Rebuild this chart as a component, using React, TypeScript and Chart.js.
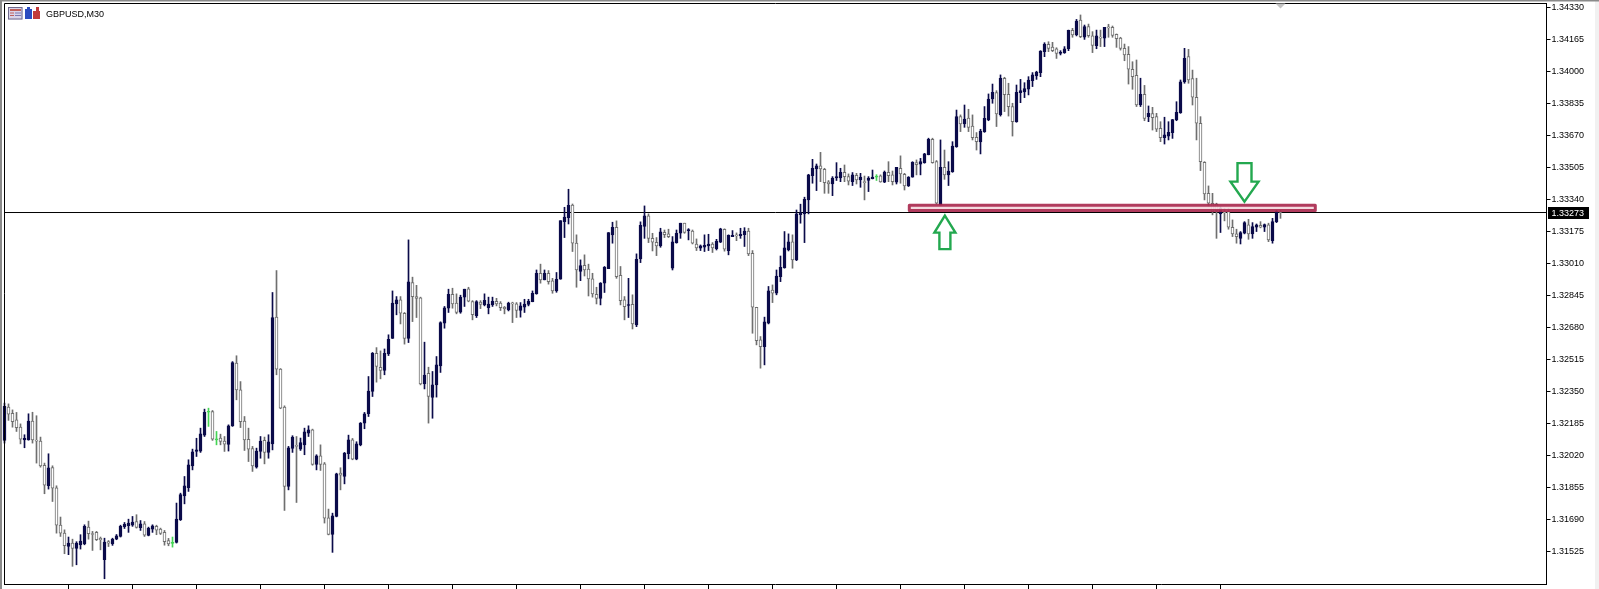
import React, { useEffect, useRef } from "react";
import { Chart, registerables } from "chart.js";

Chart.register(...registerables);

// Quotes are written as points above 1.30000 (4330 means 1.34330).
const opens = [
  2099,2270,2239,2205,2167,2102,2102,2198,2100,2095,
  1971,1865,1959,1855,1662,1621,1553,1570,1542,1561,
  1566,1652,1618,1625,1594,1484,1577,1566,1590,1604,
  1654,1659,1662,1680,1649,1669,1609,1642,1656,1642,
  1625,1583,1568,1573,1690,1813,1855,1968,2042,2044,
  2126,2244,2248,2102,2111,2095,2078,2174,2497,2359,
  2198,2105,2057,1961,2042,2099,2037,2081,2734,2466,
  2270,1862,2057,2071,2054,2076,2136,2153,1975,2020,
  1978,1700,1614,1707,1930,1913,2030,2102,2002,2076,
  2188,2236,2351,2548,2476,2459,2545,2624,2802,2823,
  2754,2624,2912,2840,2833,2390,2445,2320,2385,2483,
  2703,2780,2852,2806,2759,2837,2880,2814,2742,2811,
  2797,2783,2797,2816,2806,2785,2771,2806,2802,2768,
  2785,2799,2814,2855,2960,2926,2960,2921,2869,2929,
  3226,3247,3312,3115,2969,3001,2981,2931,2852,2831,
  2909,2984,3158,3197,2950,2823,2794,2800,2694,3034,
  3201,3256,3140,3120,3101,3171,3163,2986,3118,3166,
  3218,3180,3178,3110,3089,3094,3101,3111,3087,3120,
  3187,3077,3149,3158,3154,3159,3178,3063,2785,2617,
  2582,2703,2874,2857,2943,2989,3080,3122,3029,3262,
  3266,3338,3463,3498,3513,3496,3431,3420,3451,3451,
  3480,3458,3432,3465,3441,3431,3438,3448,3455,3462,
  3429,3480,3467,3429,3501,3470,3410,3455,3530,3522,
  3530,3571,3650,3535,3312,3506,3467,3484,3612,3767,
  3729,3760,3719,3661,3637,3690,3750,3858,3891,3777,
  3965,3882,3819,3741,3891,3894,3908,3952,3977,3994,
  4102,4140,4126,4117,4093,4097,4117,4212,4188,4265,
  4176,4231,4183,4133,4175,4171,4227,4227,4191,4172,
  4119,4088,4011,3980,3827,3882,3767,3783,3767,3707,
  3659,3667,3685,3750,3788,3946,4076,3963,3867,3733,
  3532,3372,3321,3317,3266,3278,3278,3197,3163,3140,
  3166,3209,3163,3197,3207,3197,3209,3128,3226,3275,
];
const closes = [
  2274,2234,2196,2165,2105,2109,2198,2102,2095,1968,
  1868,1958,1853,1662,1621,1556,1570,1542,1570,1580,
  1656,1618,1614,1587,1587,1575,1570,1590,1607,1656,
  1666,1673,1678,1650,1669,1611,1647,1659,1637,1619,
  1577,1565,1568,1693,1820,1865,1973,2040,2050,2133,
  2244,2244,2105,2102,2093,2080,2174,2500,2359,2196,
  2102,2054,1968,2044,2095,2037,2092,2732,2466,2265,
  1862,2061,2116,2068,2088,2143,2153,1975,2020,1975,
  1698,1614,1710,1927,1920,2033,2102,2002,2081,2188,
  2236,2353,2548,2480,2459,2548,2620,2806,2823,2754,
  2624,2916,2840,2830,2390,2435,2325,2385,2488,2706,
  2782,2852,2802,2758,2837,2878,2816,2747,2814,2799,
  2821,2801,2816,2802,2783,2777,2807,2802,2768,2792,
  2801,2816,2857,2960,2926,2960,2917,2869,2929,3231,
  3249,3310,3115,2977,3000,2977,2931,2854,2831,2909,
  2991,3170,3197,2943,2819,2788,2799,2699,3032,3207,
  3256,3139,3120,3101,3173,3159,3149,3122,3166,3218,
  3170,3183,3115,3091,3101,3104,3111,3091,3125,3189,
  3084,3156,3156,3153,3161,3178,3060,2785,2613,2582,
  2710,2869,2857,2946,2991,3091,3122,3029,3266,3273,
  3341,3467,3501,3513,3498,3427,3420,3451,3458,3480,
  3458,3434,3467,3441,3455,3427,3450,3456,3455,3431,
  3482,3463,3432,3506,3472,3410,3455,3532,3520,3535,
  3575,3650,3530,3321,3506,3467,3487,3616,3767,3729,
  3755,3712,3659,3638,3693,3758,3858,3892,3781,3965,
  3880,3819,3741,3892,3901,3911,3956,3982,3997,4105,
  4141,4119,4107,4093,4100,4117,4212,4188,4260,4179,
  4231,4184,4134,4183,4172,4227,4224,4186,4169,4119,
  4085,4011,3973,3827,3882,3758,3784,3762,3702,3659,
  3673,3686,3752,3789,3946,4068,3956,3867,3733,3535,
  3369,3321,3278,3283,3295,3272,3197,3163,3149,3170,
  3221,3163,3200,3209,3197,3211,3132,3226,3278,3273,
];
const highs = [
  2291,2287,2256,2243,2184,2128,2236,2244,2226,2116,
  1982,2030,1968,1865,1704,1638,1601,1590,1577,1613,
  1664,1683,1630,1630,1601,1595,1583,1595,1614,1662,
  1676,1693,1707,1716,1686,1681,1652,1664,1662,1647,
  1635,1594,1601,1776,1827,1913,1999,2054,2110,2162,
  2260,2265,2253,2145,2131,2119,2179,2505,2535,2402,
  2222,2162,2068,2059,2119,2116,2128,2861,2974,2469,
  2277,2068,2123,2119,2111,2162,2174,2157,2025,2076,
  1985,1745,1724,1930,1958,2037,2126,2109,2092,2191,
  2243,2428,2552,2577,2560,2570,2643,2869,2840,2840,
  2758,3132,2940,2898,2837,2605,2476,2454,2531,2710,
  2789,2878,2883,2854,2847,2878,2888,2819,2819,2819,
  2854,2837,2837,2831,2814,2789,2811,2811,2809,2809,
  2826,2826,2869,2977,3007,2977,2974,2934,2964,3231,
  3300,3393,3317,3158,3029,3055,3007,2960,2888,2912,
  2995,3170,3223,3230,2995,2840,2934,2849,3060,3225,
  3307,3266,3166,3144,3192,3183,3187,3149,3183,3218,
  3218,3190,3183,3137,3106,3158,3161,3118,3135,3192,
  3189,3158,3180,3168,3192,3195,3192,3077,2785,2634,
  2734,2892,2900,2977,3049,3175,3163,3158,3286,3316,
  3352,3470,3547,3523,3583,3501,3438,3458,3530,3501,
  3518,3472,3479,3475,3475,3461,3458,3492,3468,3467,
  3487,3535,3487,3506,3565,3475,3458,3535,3544,3552,
  3578,3656,3656,3541,3647,3595,3535,3638,3801,3776,
  3827,3805,3776,3685,3702,3819,3884,3935,3901,3982,
  3970,3939,3836,3930,3959,3942,3973,3994,4001,4107,
  4148,4153,4150,4122,4107,4128,4213,4222,4268,4291,
  4239,4244,4205,4213,4213,4227,4243,4234,4193,4176,
  4141,4128,4050,4059,3965,3928,3822,3815,3784,3741,
  3764,3741,3753,3844,3956,4119,4114,4007,3965,3767,
  3535,3410,3372,3321,3304,3295,3295,3235,3187,3175,
  3226,3238,3221,3214,3226,3214,3218,3243,3286,3286,
];
const lows = [
  2085,2202,2167,2145,2081,2061,2100,2085,1982,1961,
  1824,1848,1784,1621,1604,1515,1510,1450,1458,1539,
  1561,1590,1532,1583,1535,1386,1552,1558,1587,1601,
  1645,1625,1656,1647,1635,1604,1607,1625,1613,1614,
  1559,1556,1549,1570,1686,1772,1836,1947,2016,2037,
  2119,2171,2099,2076,2076,2042,2044,2171,2308,2165,
  2047,1990,1939,1956,2007,1978,2007,2050,2437,2262,
  1738,1844,2037,1779,2047,2025,2119,1971,1947,1944,
  1673,1612,1522,1705,1844,1875,2004,1999,1999,2071,
  2159,2222,2325,2399,2416,2437,2536,2624,2746,2699,
  2595,2603,2711,2732,2385,2364,2188,2213,2322,2449,
  2677,2758,2780,2751,2754,2789,2813,2720,2732,2778,
  2792,2751,2789,2792,2768,2751,2766,2706,2732,2734,
  2758,2792,2813,2852,2909,2926,2904,2857,2862,2929,
  3144,3214,3072,2888,2922,2946,2843,2837,2802,2797,
  2861,2984,3115,2934,2797,2720,2732,2673,2685,3015,
  3140,3118,3075,3051,3094,3144,3144,2977,3115,3140,
  3166,3132,3111,3077,3077,3072,3077,3067,3080,3118,
  3074,3055,3149,3128,3140,3098,3051,2651,2591,2471,
  2488,2699,2809,2849,2917,2986,3075,2986,3025,3218,
  3118,3266,3424,3386,3432,3372,3372,3360,3438,3432,
  3432,3415,3412,3420,3403,3338,3381,3446,3438,3429,
  3427,3432,3415,3420,3424,3389,3407,3455,3467,3467,
  3527,3570,3527,3317,3312,3444,3412,3480,3609,3690,
  3712,3690,3647,3595,3575,3686,3746,3836,3716,3770,
  3793,3770,3667,3738,3839,3865,3879,3922,3959,3973,
  4076,4102,4102,4067,4085,4093,4107,4176,4183,4174,
  4165,4176,4097,4117,4128,4128,4176,4176,4124,4110,
  4055,3935,3908,3819,3819,3746,3741,3698,3690,3638,
  3626,3647,3655,3746,3784,3939,3939,3827,3647,3489,
  3338,3304,3261,3140,3170,3230,3187,3149,3115,3111,
  3163,3135,3140,3175,3194,3175,3123,3115,3221,3243,
];

const priceTicks = [
  "1.34330","1.34165","1.34000","1.33835","1.33670","1.33505",
  "1.33340","1.33175","1.33010","1.32845","1.32680","1.32515",
  "1.32350","1.32185","1.32020","1.31855","1.31690","1.31525",
];
const timeTickBars = [16,32,48,64,80,96,112,128,144,160,176,192,208,224,240,256,272,288,304];
const symbolTitle = "GBPUSD,M30";
const lastPrice = 1.33273;
const priceMin = 1.31359;
const priceMax = 1.3435;
const barMax = 385.5;

// Drawn zones, in bar numbers and prices.
const zoneBars = [226.2, 327.7];
const zonePrices = [1.3331, 1.33284];
const upArrowTip = { bar: 235.1, price: 1.33257 };
const downArrowTip = { bar: 310, price: 1.33329 };

const BULL = "#0b0b4a";
const BEAR = "#6f6f6f";
const DOJI = "#45d455";
const FONT = '"Liberation Sans", Arial, sans-serif';

const toPrice = (p: number) => 1.3 + p / 100000;
const colorOf = (i: number) =>
  closes[i] > opens[i] ? BULL : closes[i] < opens[i] ? BEAR : DOJI;

const framePlugin = {
  id: "frame",
  beforeDraw(chart: any) {
    const { ctx, width, height } = chart;
    ctx.save();
    ctx.fillStyle = "#ffffff";
    ctx.fillRect(0, 0, width, height);
    ctx.fillStyle = "#f1f1f1";
    ctx.fillRect(1595, 0, width - 1595, height);
    ctx.fillStyle = "#8a8a8a";
    ctx.fillRect(0, 0, width, 1.5);
    ctx.fillRect(0, 0, 2, height);
    ctx.restore();
  },
  afterDatasetsDraw(chart: any) {
    const { ctx, chartArea: a, scales } = chart;
    const x = scales.x;
    const y = scales.y;
    ctx.save();
    // zone
    const zx0 = x.getPixelForValue(zoneBars[0]);
    const zx1 = x.getPixelForValue(zoneBars[1]);
    const zy0 = y.getPixelForValue(zonePrices[0]);
    const zy1 = y.getPixelForValue(zonePrices[1]);
    ctx.globalAlpha = 0.9;
    ctx.fillStyle = "#f3d5dc";
    ctx.fillRect(zx0, zy0, zx1 - zx0, zy1 - zy0);
    ctx.strokeStyle = "#a8274c";
    ctx.lineWidth = 3;
    ctx.lineJoin = "round";
    ctx.strokeRect(zx0, zy0, zx1 - zx0, zy1 - zy0);
    ctx.globalAlpha = 1;
    // arrows
    ctx.strokeStyle = "#23a84f";
    ctx.lineWidth = 2.4;
    ctx.lineJoin = "miter";
    const ux = x.getPixelForValue(upArrowTip.bar);
    const uy = y.getPixelForValue(upArrowTip.price);
    ctx.beginPath();
    ctx.moveTo(ux, uy);
    ctx.lineTo(ux + 10.5, uy + 17);
    ctx.lineTo(ux + 5.5, uy + 17);
    ctx.lineTo(ux + 5.5, uy + 33.5);
    ctx.lineTo(ux - 5.5, uy + 33.5);
    ctx.lineTo(ux - 5.5, uy + 17);
    ctx.lineTo(ux - 10.5, uy + 17);
    ctx.closePath();
    ctx.stroke();
    const dx = x.getPixelForValue(downArrowTip.bar);
    const dy = y.getPixelForValue(downArrowTip.price);
    ctx.beginPath();
    ctx.moveTo(dx, dy);
    ctx.lineTo(dx + 14, dy - 20);
    ctx.lineTo(dx + 7, dy - 20);
    ctx.lineTo(dx + 7, dy - 38.5);
    ctx.lineTo(dx - 7, dy - 38.5);
    ctx.lineTo(dx - 7, dy - 20);
    ctx.lineTo(dx - 14, dy - 20);
    ctx.closePath();
    ctx.stroke();
    // frame top and left
    ctx.strokeStyle = "#000000";
    ctx.lineWidth = 1;
    ctx.beginPath();
    ctx.moveTo(a.left, a.bottom);
    ctx.lineTo(a.left, a.top);
    ctx.lineTo(a.right, a.top);
    ctx.stroke();
    // shift marker
    const sx = x.getPixelForValue(closes.length - 1);
    ctx.fillStyle = "#c4c4c4";
    ctx.beginPath();
    ctx.moveTo(sx - 5, a.top);
    ctx.lineTo(sx + 5, a.top);
    ctx.lineTo(sx, a.top + 5);
    ctx.closePath();
    ctx.fill();
    // title icons
    ctx.fillStyle = "#d9d4ea";
    ctx.fillRect(8, 7, 14.5, 12.5);
    ctx.strokeStyle = "#6f6a8c";
    ctx.strokeRect(8.5, 7.5, 13.5, 11.5);
    ctx.fillStyle = "#c0605a";
    ctx.fillRect(10, 9, 11, 2);
    ctx.fillRect(10, 12.5, 4, 1);
    ctx.fillRect(10, 15, 4, 1);
    ctx.fillStyle = "#7c78b0";
    ctx.fillRect(15, 12.5, 6, 1);
    ctx.fillRect(15, 15, 6, 1);
    ctx.fillStyle = "#2c4cc0";
    ctx.fillRect(25, 9, 7, 10);
    ctx.fillRect(27, 7, 3, 3);
    ctx.fillStyle = "#c23a3a";
    ctx.fillRect(33, 11, 7, 8);
    ctx.fillRect(36, 7, 3, 5);
    // title text
    ctx.fillStyle = "#000000";
    ctx.font = `9px ${FONT}`;
    ctx.textBaseline = "alphabetic";
    ctx.textAlign = "left";
    ctx.fillText(symbolTitle, 46, 16.5);
    ctx.restore();
  },
  afterDraw(chart: any) {
    const { ctx, scales } = chart;
    const py = Math.round(scales.y.getPixelForValue(lastPrice));
    ctx.save();
    ctx.fillStyle = "#000000";
    ctx.fillRect(1548, py - 6, 41, 12);
    ctx.fillStyle = "#ffffff";
    ctx.font = `9px ${FONT}`;
    ctx.textBaseline = "middle";
    ctx.textAlign = "left";
    ctx.fillText(lastPrice.toFixed(5), 1551.5, py + 0.5);
    ctx.restore();
  },
};

export default function App() {
  const ref = useRef<HTMLCanvasElement | null>(null);
  useEffect(() => {
    document.body.style.margin = "0";
    const idx = closes.map((_, i) => i);
    const colors = idx.map(colorOf);
    const chart = new Chart(ref.current as HTMLCanvasElement, {
      type: "bar",
      data: {
        datasets: [
          {
            type: "line",
            label: "Last",
            data: [
              { x: 0, y: lastPrice },
              { x: barMax, y: lastPrice },
            ],
            borderColor: "#000000",
            borderWidth: 1,
            pointRadius: 0,
            order: 3,
          },
          {
            label: "Wicks",
            data: idx.map((i) => ({ x: i, y: [toPrice(lows[i]), toPrice(highs[i])] })),
            backgroundColor: colors,
            borderWidth: 0,
            barThickness: 1,
            grouped: false,
            clip: false,
            order: 2,
          },
          {
            label: "Bodies",
            data: idx.map((i) => ({ x: i, y: [toPrice(opens[i]), toPrice(closes[i])] })),
            backgroundColor: idx.map((i) =>
              closes[i] < opens[i] ? "#ffffff" : colors[i]
            ),
            borderColor: colors,
            borderWidth: 1,
            borderSkipped: false,
            barThickness: 3,
            minBarLength: 1,
            grouped: false,
            clip: false,
            order: 1,
          },
        ] as any,
      },
      options: {
        responsive: false,
        animation: false,
        devicePixelRatio: 1,
        layout: { padding: { left: 4.5, top: 3.5, right: 0, bottom: 0 } },
        plugins: { legend: { display: false }, tooltip: { enabled: false } },
        scales: {
          x: {
            type: "linear",
            min: 0,
            max: barMax,
            offset: false,
            grid: { display: true, offset: false, drawOnChartArea: false, tickLength: 5, color: "#000000" },
            border: { display: true, color: "#000000", width: 1 },
            ticks: { display: true, autoSkip: false, maxRotation: 0, callback: () => "" },
            afterBuildTicks: (s: any) => {
              s.ticks = timeTickBars.map((value) => ({ value }));
            },
            afterFit: (s: any) => {
              s.height = 5;
              s.paddingLeft = 0;
              s.paddingRight = 0;
            },
          },
          y: {
            type: "linear",
            position: "right",
            min: priceMin,
            max: priceMax,
            grid: { display: true, drawOnChartArea: false, tickLength: 4, color: "#000000" },
            border: { display: true, color: "#000000", width: 1 },
            ticks: {
              autoSkip: false,
              padding: 1,
              color: "#000000",
              font: { family: FONT, size: 9 },
              callback: (v: any) => Number(v).toFixed(5),
            },
            afterBuildTicks: (s: any) => {
              s.ticks = priceTicks.map((t) => ({ value: Number(t) }));
            },
            afterFit: (s: any) => {
              s.width = 52.5;
              s.paddingTop = 0;
              s.paddingBottom = 0;
            },
          },
        },
      } as any,
      plugins: [framePlugin as any],
    });
    return () => chart.destroy();
  }, []);
  return (
    <div style={{ position: "fixed", left: 0, top: 0, width: 1599, height: 589, background: "#fff" }}>
      <canvas ref={ref} width={1599} height={589} style={{ display: "block" }} />
    </div>
  );
}
